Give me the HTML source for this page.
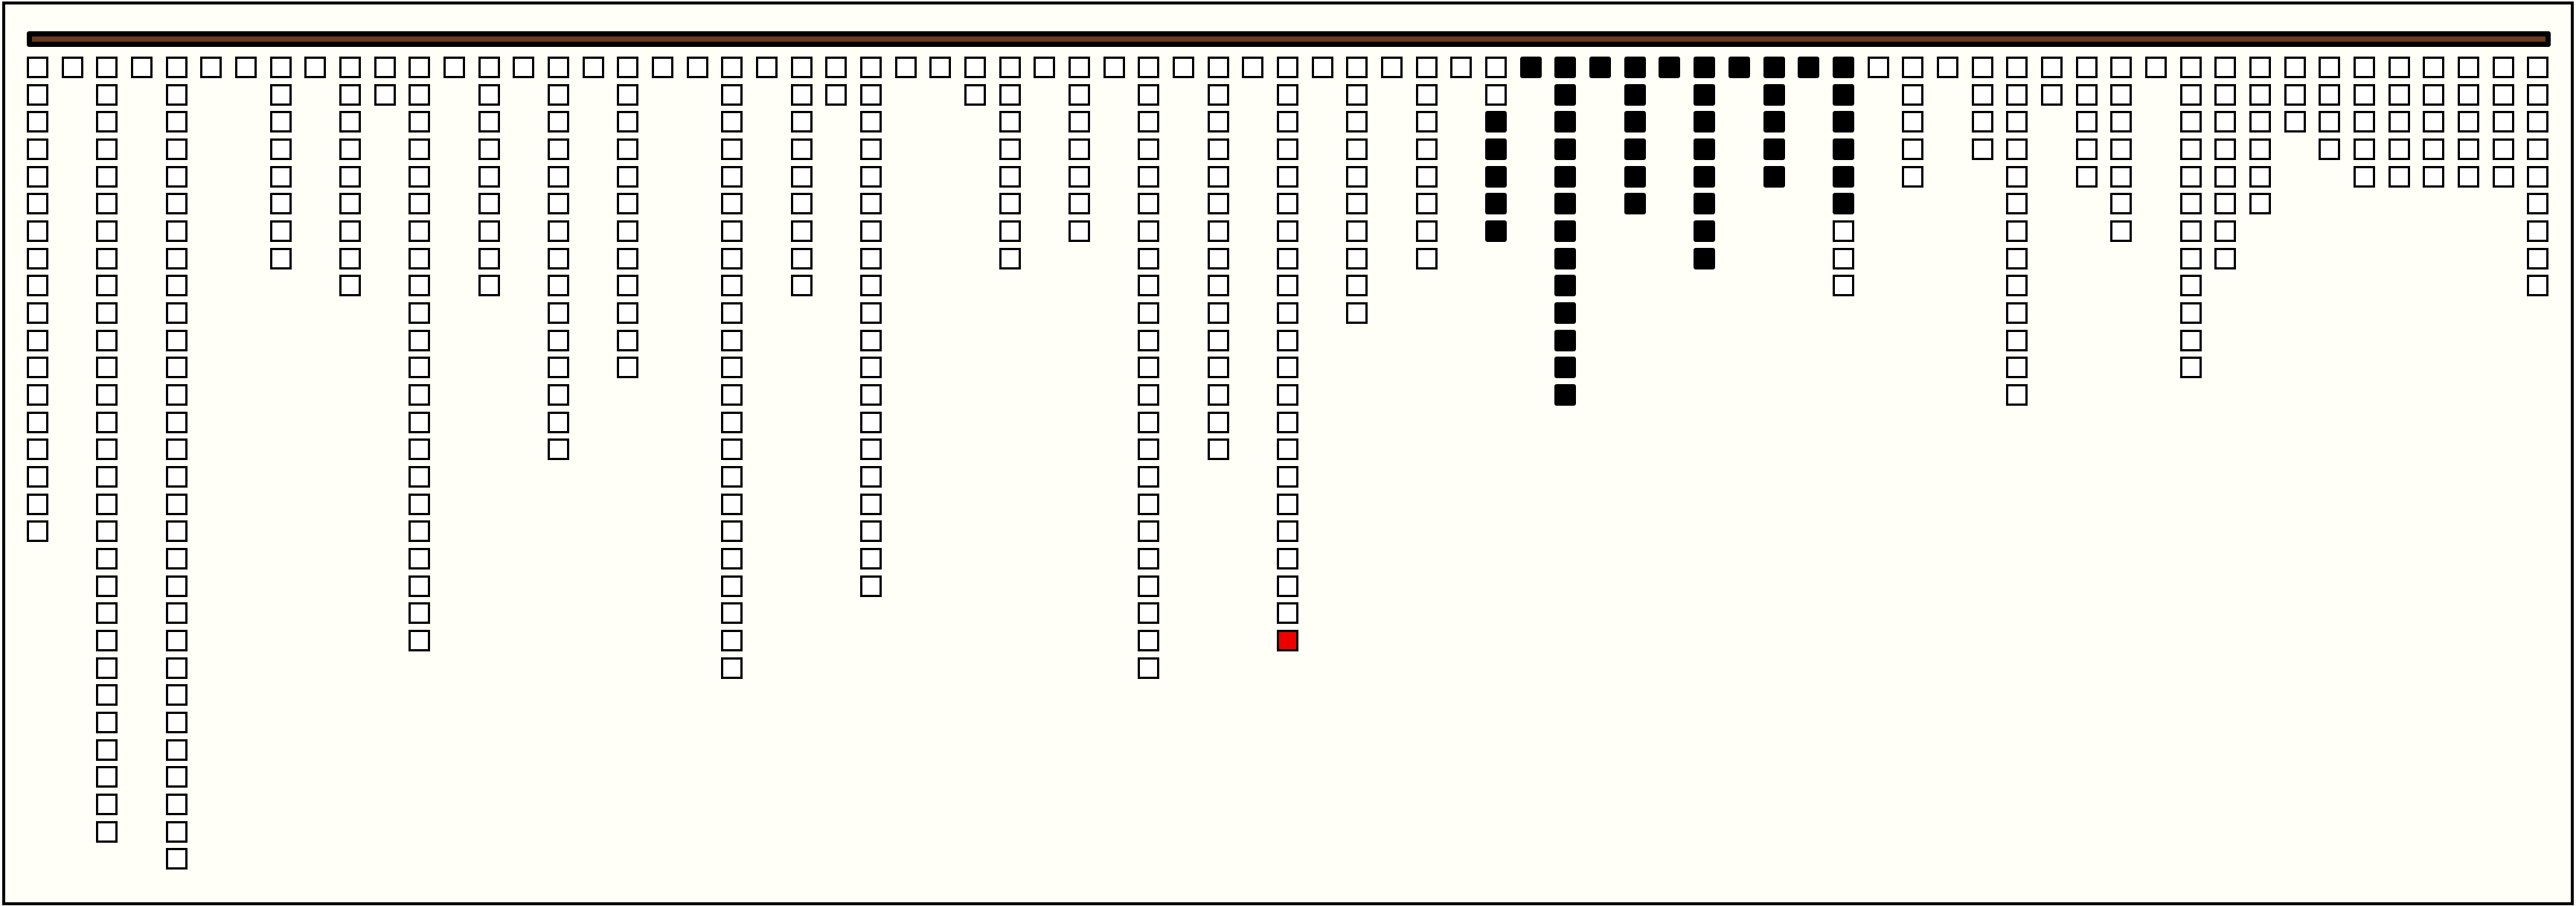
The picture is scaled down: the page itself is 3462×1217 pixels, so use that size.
<!DOCTYPE html>
<html><head><meta charset="utf-8"><style>
html,body{margin:0;padding:0;background:#fffff8;}
body{width:3462px;height:1217px;position:relative;overflow:hidden;}
#frame{position:absolute;left:3px;top:2px;width:3448px;height:1206px;border:4px solid #000;background:#fffff8;}
#bar{position:absolute;left:36px;top:42px;width:3378px;height:7px;border:7px solid #000;background:#6b3a22;border-radius:3px;}
.s{position:absolute;width:23px;height:23px;border:3px solid #000;background:#fff;box-sizing:content-box;}
.b{background:#000;border-radius:3px;}
.r{background:#ee0000;}
</style></head><body>
<div id="frame"></div>
<div id="bar"></div>
<div id="g"></div>
<script>
var h=[18,1,29,1,30,1,1,8,1,9,2,22,1,9,1,15,1,12,1,1,23,1,9,2,20,1,1,2,8,1,7,1,23,1,15,1,22,1,10,1,8,1,7,1,13,1,6,1,8,1,5,1,9,1,5,1,4,13,2,5,7,1,12,8,6,3,4,5,5,5,5,5,9];
var out='';
for(var c=0;c<h.length;c++){
 for(var r=0;r<h[c];r++){
  var cls='s';
  if(c>=43&&c<=51) cls+=' b';
  if(c==42&&r>=2) cls+=' b';
  if(c==52&&r<=5) cls+=' b';
  if(c==36&&r==21) cls+=' r';
  var x=Math.round(36+c*46.67), y=Math.round(76+r*36.67);
  out+='<div class="'+cls+'" style="left:'+x+'px;top:'+y+'px"></div>';
 }
}
document.getElementById('g').innerHTML=out;
</script>
</body></html>
